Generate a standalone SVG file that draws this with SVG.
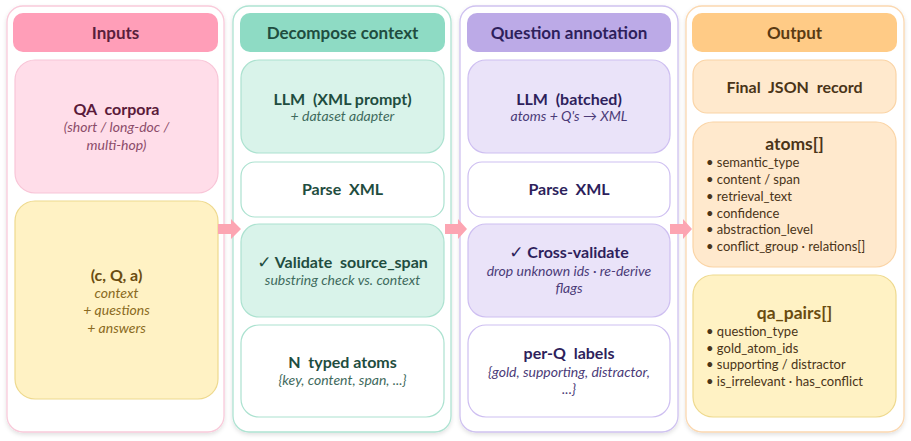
<svg xmlns="http://www.w3.org/2000/svg" width="911" height="441" viewBox="0 0 911 441">
<defs>
<filter id="sh" x="-10%" y="-10%" width="120%" height="120%">
<feDropShadow dx="0" dy="2" stdDeviation="2" flood-color="#000" flood-opacity="0.12"/>
</filter>
<style>
text{font-family:Lato,"Open Sans","DejaVu Sans",sans-serif;text-anchor:middle;white-space:pre}
.h{font-size:17px;font-weight:bold}
.t{font-size:16px;font-weight:bold}
.s{font-size:14px;font-style:italic}
.b{font-size:13px;text-anchor:start}
.ck{font-family:"DejaVu Sans",sans-serif;font-size:17px}
.outer{fill:#fff;stroke-width:1.3;filter:url(#sh)}
.nd{stroke-width:1.2}
.p .outer{stroke:#F9CADA}.p .hd{fill:#FF9EB8}.p .h{fill:#5A1E3C}
.pk{fill:#FFDDE9;stroke:#F8C5D7}.pk-t{fill:#5A1A3A}.pk-s{fill:#8C4C6A}
.yl{fill:#FFF2C4;stroke:#EED98E}.yl-t{fill:#6A4C10}.yl-s{fill:#8A6A22}
.g .outer{stroke:#AEE3D2}.g .hd{fill:#8EDBC4}.g .h{fill:#1F4D40}
.gn{fill:#D9F3EA;stroke:#ACE2D0}.gw{fill:#fff;stroke:#ACE2D0}.g-t{fill:#1F4D40}.g-s{fill:#3F6B5D}
.v .outer{stroke:#CFC2F0}.v .hd{fill:#BCAAE7}.v .h{fill:#2E1F5C}
.vn{fill:#EAE3F9;stroke:#CEBFF1}.vw{fill:#fff;stroke:#CEBFF1}.v-t{fill:#2E1F5C}.v-s{fill:#4B3B78}
.o .outer{stroke:#FBD8B0}.o .hd{fill:#FFCB86}.o .h{fill:#5A3A12}
.on{fill:#FFE9CD;stroke:#FAD4A6}.o-t{fill:#4A3418}
.arrow{fill:#FCA5B2}
</style>
</defs>
<rect width="911" height="441" fill="#fff"/>

<g id="col-inputs" class="p">
<rect class="outer" x="7" y="6" width="217" height="426" rx="16"/>
<g id="hdr-inputs"><rect class="hd" x="13" y="13" width="205" height="39" rx="10"/><text class="h" x="115.5" y="39">Inputs</text></g>
<g id="qa-corpora"><rect class="nd pk" x="15" y="60" width="203" height="133" rx="20"/>
<text class="t pk-t" x="116.5" y="115">QA  corpora</text>
<text class="s pk-s" x="116.5" y="132">(short / long-doc /</text>
<text class="s pk-s" x="116.5" y="150">multi-hop)</text></g>
<g id="cqa"><rect class="nd yl" x="15" y="201" width="203" height="198" rx="20"/>
<text class="t yl-t" x="116.5" y="281">(c, Q, a)</text>
<text class="s yl-s" x="116.5" y="298">context</text>
<text class="s yl-s" x="116.5" y="315">+ questions</text>
<text class="s yl-s" x="116.5" y="333">+ answers</text></g>
</g>

<g id="col-decompose" class="g">
<rect class="outer" x="233" y="6" width="218" height="426" rx="16"/>
<g id="hdr-decompose"><rect class="hd" x="240" y="13" width="205" height="39" rx="10"/><text class="h" x="342.5" y="39">Decompose context</text></g>
<g id="llm-xml"><rect class="nd gn" x="241" y="60" width="203" height="93" rx="18"/>
<text class="t g-t" x="342.5" y="105">LLM  (XML prompt)</text>
<text class="s g-s" x="342.5" y="121">+ dataset adapter</text></g>
<g id="parse-xml-1"><rect class="nd gw" x="241" y="162" width="203" height="55" rx="14"/>
<text class="t g-t" x="342.5" y="195">Parse  XML</text></g>
<g id="validate-span"><rect class="nd gn" x="241" y="224" width="203" height="93" rx="18"/>
<text class="t g-t" x="342.5" y="268"><tspan class="ck">✓</tspan> Validate  source_span</text>
<text class="s g-s" x="342.5" y="285">substring check vs. context</text></g>
<g id="typed-atoms"><rect class="nd gw" x="241" y="325" width="203" height="92" rx="18"/>
<text class="t g-t" x="342.5" y="368">N  typed atoms</text>
<text class="s g-s" x="342.5" y="385">{key, content, span, ...}</text></g>
</g>

<g id="col-question" class="v">
<rect class="outer" x="460" y="6" width="218" height="426" rx="16"/>
<g id="hdr-question"><rect class="hd" x="467" y="13" width="204" height="39" rx="10"/><text class="h" x="569" y="39">Question annotation</text></g>
<g id="llm-batched"><rect class="nd vn" x="468" y="60" width="202" height="93" rx="18"/>
<text class="t v-t" x="569" y="105">LLM  (batched)</text>
<text class="s v-s" x="569" y="121">atoms + Q's → XML</text></g>
<g id="parse-xml-2"><rect class="nd vw" x="468" y="162" width="202" height="55" rx="14"/>
<text class="t v-t" x="569" y="195">Parse  XML</text></g>
<g id="cross-validate"><rect class="nd vn" x="468" y="224" width="202" height="93" rx="18"/>
<text class="t v-t" x="569" y="258"><tspan class="ck">✓</tspan> Cross-validate</text>
<text class="s v-s" x="569" y="276">drop unknown ids · re-derive</text>
<text class="s v-s" x="569" y="293">flags</text></g>
<g id="perq-labels"><rect class="nd vw" x="468" y="325" width="202" height="92" rx="18"/>
<text class="t v-t" x="569" y="359">per-Q  labels</text>
<text class="s v-s" x="569" y="377">{gold, supporting, distractor,</text>
<text class="s v-s" x="569" y="394">...}</text></g>
</g>

<g id="col-output" class="o">
<rect class="outer" x="686" y="6" width="218" height="426" rx="16"/>
<g id="hdr-output"><rect class="hd" x="692" y="13" width="205" height="39" rx="10"/><text class="h" x="794.5" y="39">Output</text></g>
<g id="final-json"><rect class="nd on" x="693" y="60" width="203" height="53" rx="14"/>
<text class="t o-t" x="794.5" y="93">Final  JSON  record</text></g>
<g id="atoms"><rect class="nd on" x="693" y="122" width="203" height="145" rx="20"/>
<text class="o-t" x="794.5" y="150" style="font-size:17.5px;font-weight:bold">atoms[]</text>
<text class="b o-t" x="706" y="167">• semantic_type</text>
<text class="b o-t" x="706" y="184">• content / span</text>
<text class="b o-t" x="706" y="201">• retrieval_text</text>
<text class="b o-t" x="706" y="218">• confidence</text>
<text class="b o-t" x="706" y="234">• abstraction_level</text>
<text class="b o-t" x="706" y="251">• conflict_group · relations[]</text></g>
<g id="qa-pairs"><rect class="nd yl" x="693" y="275" width="203" height="142" rx="20"/>
<text class="yl-t" x="794.5" y="319" style="font-size:17.5px;font-weight:bold">qa_pairs[]</text>
<text class="b o-t" x="706" y="336">• question_type</text>
<text class="b o-t" x="706" y="353">• gold_atom_ids</text>
<text class="b o-t" x="706" y="369">• supporting / distractor</text>
<text class="b o-t" x="706" y="386">• is_irrelevant · has_conflict</text></g>
</g>

<g id="connectors">
<path class="arrow" d="M218,224 H231 V219 L241,229 L231,239 V234 H218 Z"/>
<path class="arrow" d="M445,224 H458 V219 L467,229 L458,239 V234 H445 Z"/>
<path class="arrow" d="M670,224 H683 V219 L692,229 L683,239 V234 H670 Z"/>
</g>
</svg>
